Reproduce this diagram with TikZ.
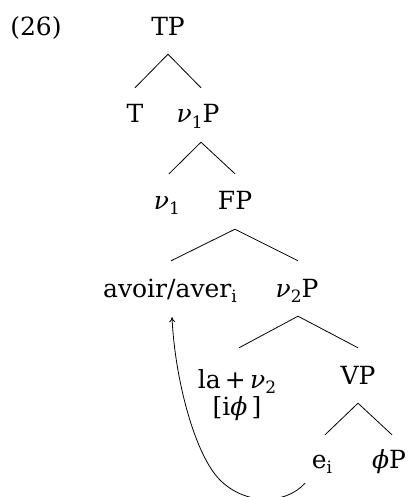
\documentclass[tikz,border=0pt]{standalone}
\usepackage{fontspec}
\setmainfont{DejaVu Serif}
\usetikzlibrary{arrows.meta}
\newcommand{\sbs}[1]{\raisebox{-0.22em}{\fontsize{17}{17}\selectfont #1}}
\newcommand{\gnu}{{\itshape ν}}
\newcommand{\gphi}{{\itshape ϕ}}
\begin{document}
\begin{tikzpicture}[x=1pt,y=-1pt,
  lab/.style={anchor=base,inner sep=0pt,text height=19pt,text depth=0pt,font=\fontsize{25}{28}\selectfont},
  br/.style={line width=0.8pt},
  mv/.style={line width=0.8pt,-{To[length=5pt,width=6pt]}}]
\useasboundingbox (0,0) rectangle (409,497);
\node[lab] (ex) at (36,36) {(26)};
\node[lab] (TP) at (168,36) {TP};
\node[lab] (T) at (135,123) {T};
\node[lab] (v1P) at (198,123) {\gnu\sbs{1}P};
\node[lab] (v1) at (167,209) {\gnu\sbs{1}};
\node[lab] (FP) at (235,209) {FP};
\node[lab] (avoir) at (170,297) {avoir/aver\sbs{i}};
\node[lab] (v2P) at (297,297) {\gnu\sbs{2}P};
\node[lab] (la) at (237,388) {la\,+\,\gnu\sbs{2}};
\node[lab] (iphi) at (237,415) {[i\gphi\,]};
\node[lab] (VP) at (358,384) {VP};
\node[lab] (ei) at (322,468) {e\sbs{i}};
\node[lab] (phiP) at (389,468) {\gphi P};
\draw[br] ([yshift=-18pt]TP.south) -- ([yshift=16pt]T.north);
\draw[br] ([yshift=-18pt]TP.south) -- ([xshift=3pt,yshift=16pt]v1P.north);
\draw[br] ([xshift=3pt,yshift=-19pt]v1P.south) -- ([xshift=2pt,yshift=16pt]v1.north);
\draw[br] ([xshift=3pt,yshift=-19pt]v1P.south) -- ([yshift=16pt]FP.north);
\draw[br] ([yshift=-20pt]FP.south) -- ([xshift=1pt,yshift=17pt]avoir.north);
\draw[br] ([yshift=-20pt]FP.south) -- ([xshift=1pt,yshift=17pt]v2P.north);
\draw[br] ([xshift=1pt,yshift=-19pt]v2P.south) -- ([xshift=2pt,yshift=21pt]la.north);
\draw[br] ([xshift=1pt,yshift=-19pt]v2P.south) -- ([yshift=17pt]VP.north);
\draw[br] ([yshift=-19pt]VP.south) -- ([xshift=3pt,yshift=14pt]ei.north);
\draw[br] ([yshift=-19pt]VP.south) -- ([xshift=3pt,yshift=14pt]phiP.north);
\begin{scope}
\clip (0,0) rectangle (409,497);
\draw[mv] ([xshift=-17pt,yshift=-15pt]ei.south) .. controls +(-20,22) and +(25,25) .. (220,480) .. controls +(-25,-25) and +(3,63) .. ([xshift=2pt,yshift=-20pt]avoir.south);
\end{scope}
\end{tikzpicture}
\end{document}
